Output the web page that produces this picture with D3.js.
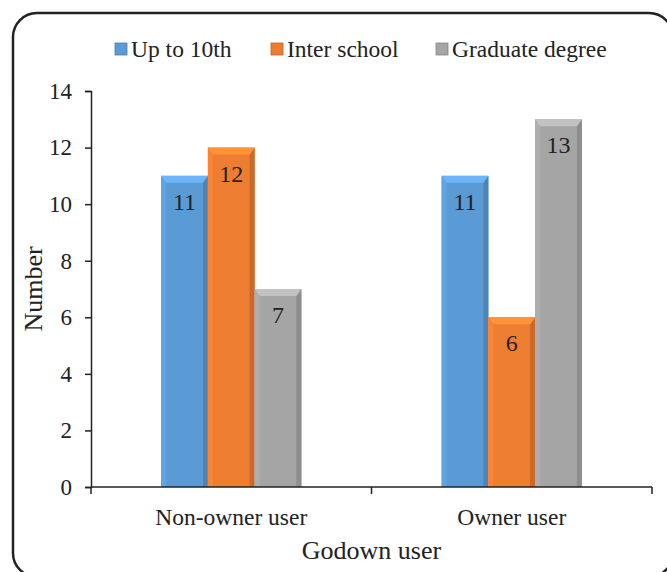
<!DOCTYPE html>
<html>
<head>
<meta charset="utf-8">
<script src="https://cdn.jsdelivr.net/npm/d3@7"></script>
<style>
  html, body { margin: 0; padding: 0; background: #fff; }
  svg { display: block; }
</style>
</head>
<body>
<svg id="chart" width="667" height="572" font-family="'Liberation Serif', 'Times New Roman', serif"></svg>
<script>
// Respondents by godown ownership and education level
const categories = ["Non-owner user", "Owner user"];
const seriesNames = ["Up to 10th", "Inter school", "Graduate degree"];
const upTo10th = [11, 11];
const interSchool = [12, 6];
const graduateDegree = [7, 13];
const yTicks = [0, 2, 4, 6, 8, 10, 12, 14];
const seriesColors = ["#5B9BD5", "#ED7D31", "#A5A5A5"];

const seriesValues = [upTo10th, interSchool, graduateDegree];
const FONT = "'Liberation Serif', 'Times New Roman', serif";
const INK = "#222";

const svg = d3.select("#chart");
const x0 = 91, x1 = 652, yTop = 91, yBot = 487;

// outer frame with rounded corners
svg.append("rect")
  .attr("x", 13).attr("y", 13)
  .attr("width", 660).attr("height", 564)
  .attr("rx", 24).attr("ry", 24)
  .attr("fill", "none").attr("stroke", INK).attr("stroke-width", 2.5);

const x = d3.scaleBand().domain(categories).range([x0, x1]).paddingInner(0).paddingOuter(0);
const xs = d3.scaleBand().domain(seriesNames).range([0, x.bandwidth()]).paddingInner(0).paddingOuter(1.5);
const y = d3.scaleLinear().domain([0, 14]).range([yBot, yTop]);

// bars with a bevelled look
const bevel = 5, topBevel = 7;
const g = svg.append("g");
categories.forEach((cat, ci) => {
  seriesNames.forEach((s, si) => {
    const v = seriesValues[si][ci];
    const bx = x(cat) + xs(s);
    const bw = xs.bandwidth();
    const by = y(v);
    const base = d3.color(seriesColors[si]);
    const bar = g.append("g");
    bar.append("rect").attr("x", bx).attr("y", by).attr("width", bw).attr("height", y(0) - by)
      .attr("fill", base.formatHex());
    // left bevel
    bar.append("polygon").attr("points", [
      [bx, by], [bx + bevel, by + topBevel], [bx + bevel, y(0)], [bx, y(0)]
    ].map(p => p.join(",")).join(" ")).attr("fill", base.brighter(0.15).formatHex());
    // right bevel
    bar.append("polygon").attr("points", [
      [bx + bw, by], [bx + bw - bevel, by + topBevel], [bx + bw - bevel, y(0)], [bx + bw, y(0)]
    ].map(p => p.join(",")).join(" ")).attr("fill", base.darker(0.45).formatHex());
    // top bevel
    bar.append("polygon").attr("points", [
      [bx, by], [bx + bw, by], [bx + bw - bevel, by + topBevel], [bx + bevel, by + topBevel]
    ].map(p => p.join(",")).join(" ")).attr("fill", base.brighter(0.45).formatHex());
    // value label
    bar.append("text")
      .attr("x", bx + bw / 2).attr("y", by + 34)
      .attr("text-anchor", "middle").attr("font-size", 24)
      .attr("font-family", FONT).attr("fill", INK)
      .text(v);
  });
});

// y axis
const yAxis = d3.axisLeft(y).tickValues(yTicks).tickSize(6).tickPadding(13).tickFormat(d3.format("d"));
const ya = svg.append("g").attr("transform", `translate(${x0},0)`).call(yAxis)
  .attr("font-family", FONT).attr("font-size", 23);
ya.select(".domain").attr("stroke", INK).attr("stroke-width", 1.5);
ya.selectAll(".tick line").attr("stroke", INK).attr("stroke-width", 1.5);
ya.selectAll(".tick text").attr("fill", INK);

// x axis with boundary ticks between categories
const xa = svg.append("g").attr("transform", `translate(0,${yBot})`)
  .attr("font-family", FONT);
xa.append("line").attr("x1", x0).attr("x2", x1).attr("stroke", INK).attr("stroke-width", 1.5);
const bounds = [x0].concat(categories.map(c => x(c) + x.bandwidth()));
xa.selectAll("line.tk").data(bounds).join("line").attr("class", "tk")
  .attr("x1", d => d).attr("x2", d => d).attr("y1", 0).attr("y2", 7)
  .attr("stroke", INK).attr("stroke-width", 1.5);
xa.selectAll("text.cat").data(categories).join("text").attr("class", "cat")
  .attr("x", d => x(d) + x.bandwidth() / 2).attr("y", 38)
  .attr("text-anchor", "middle").attr("font-size", 23.5).attr("fill", INK).text(d => d);

// axis titles
svg.append("text").attr("x", (x0 + x1) / 2).attr("y", 559)
  .attr("text-anchor", "middle").attr("font-size", 26).attr("font-family", FONT).attr("fill", INK)
  .text("Godown user");
svg.append("text").attr("transform", "translate(42,289) rotate(-90)")
  .attr("text-anchor", "middle").attr("font-size", 26).attr("font-family", FONT).attr("fill", INK)
  .text("Number");

// legend
const legendX = [115, 271, 436];
const lg = svg.append("g").attr("font-family", FONT);
seriesNames.forEach((s, i) => {
  const base = d3.color(seriesColors[i]);
  lg.append("rect").attr("x", legendX[i]).attr("y", 43).attr("width", 12).attr("height", 12)
    .attr("fill", base.formatHex()).attr("stroke", base.darker(0.6).formatHex()).attr("stroke-width", 0.8);
  lg.append("text").attr("x", legendX[i] + 16).attr("y", 57).attr("font-size", 23.5).attr("fill", INK).text(s);
});
</script>
</body>
</html>
